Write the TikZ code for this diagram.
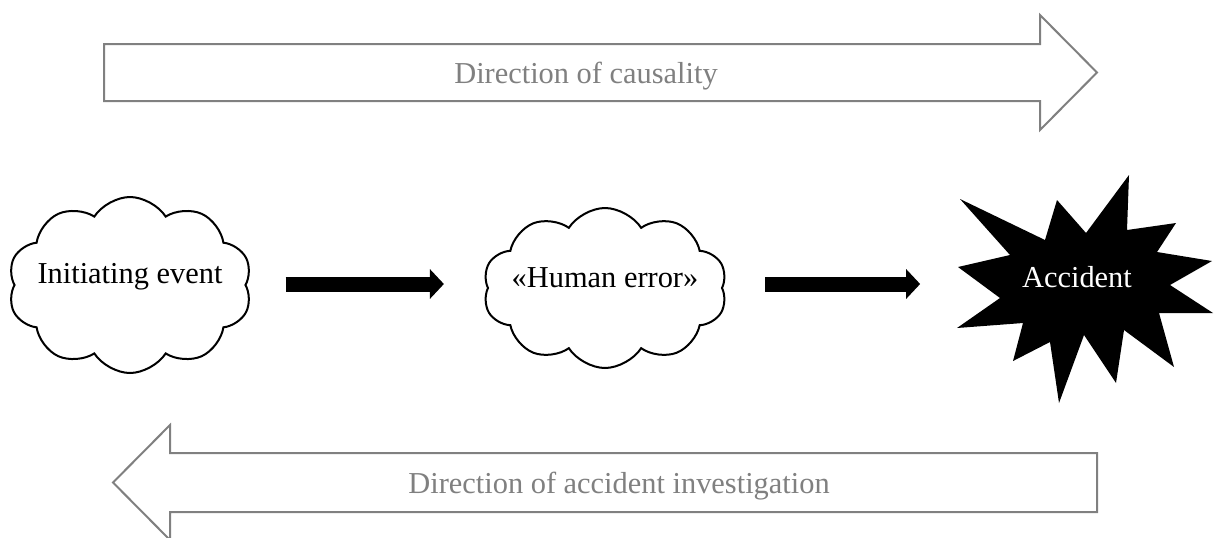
\documentclass[tikz,border=0pt]{standalone}
\usepackage{fontspec}
\setmainfont{Liberation Serif}
\usetikzlibrary{shapes.symbols,arrows.meta}
\definecolor{ink}{RGB}{0,0,0}
\definecolor{shade}{RGB}{128,128,128}

\begin{document}
\begin{tikzpicture}[x=0.5pt, y=-0.5pt, line width=1pt,
    font=\fontsize{15.2}{18}\selectfont,
    cloudbox/.style={draw=ink, cloud, cloud puffs=10, cloud puff arc=115,
      cloud ignores aspect, minimum width=122pt, inner sep=0pt},
    flowarrow/.style={ink, line width=7.5pt,
      -{Triangle[length=7pt, width=14.5pt]}},
    bigarrow/.style={draw=shade, fill=white, line width=1pt, line join=miter},
    bigtext/.style={text=shade, inner sep=0pt}]
  \useasboundingbox (0,0) rectangle (1214,537);
  \clip (0,0) rectangle (1214,537);
  % causality, left to right
  \draw[bigarrow] (104,44) -- (1040,44) -- (1040,15) -- (1097,72.5)
    -- (1040,130) -- (1040,101) -- (104,101) -- cycle;
  \node[bigtext] (cause) at (586,76) {Direction of causality};
  % investigation, right to left
  \draw[bigarrow] (1097,453) -- (170,453) -- (170,425) -- (113,482.5)
    -- (170,540) -- (170,512) -- (1097,512) -- cycle;
  \node[bigtext] (invest) at (619,486) {Direction of accident investigation};
  % the chain of events
  \node[cloudbox, minimum height=88pt,
    label={[yshift=4pt]center:Initiating event}] (init) at (130,285) {};
  \node[cloudbox, minimum height=80pt,
    label={[yshift=5pt]center:«Human error»}] (human) at (605,288) {};
  \fill[ink] (960,199) -- (1045,240) -- (1057,200) -- (1086,233) -- (1129,175)
    -- (1127,230) -- (1176,223) -- (1157,252) -- (1212,261) -- (1170,285)
    -- (1213,313) -- (1159,313) -- (1174,367) -- (1124,330) -- (1116,383)
    -- (1084,335) -- (1059,403) -- (1050,342) -- (1013,361) -- (1023,323)
    -- (957,328) -- (1000,298) -- (958,267) -- (1010,255) -- cycle;
  \node[white, inner sep=0pt] (acc) at (1077,277) {Accident};
  \draw[flowarrow] ([xshift=19.5pt]init.east |- 0,284) -- ([xshift=-21.5pt]human.west |- 0,284);
  \draw[flowarrow] ([xshift=21pt]human.east |- 0,284) -- ([xshift=-50.5pt]acc.west |- 0,284);
\end{tikzpicture}
\end{document}
